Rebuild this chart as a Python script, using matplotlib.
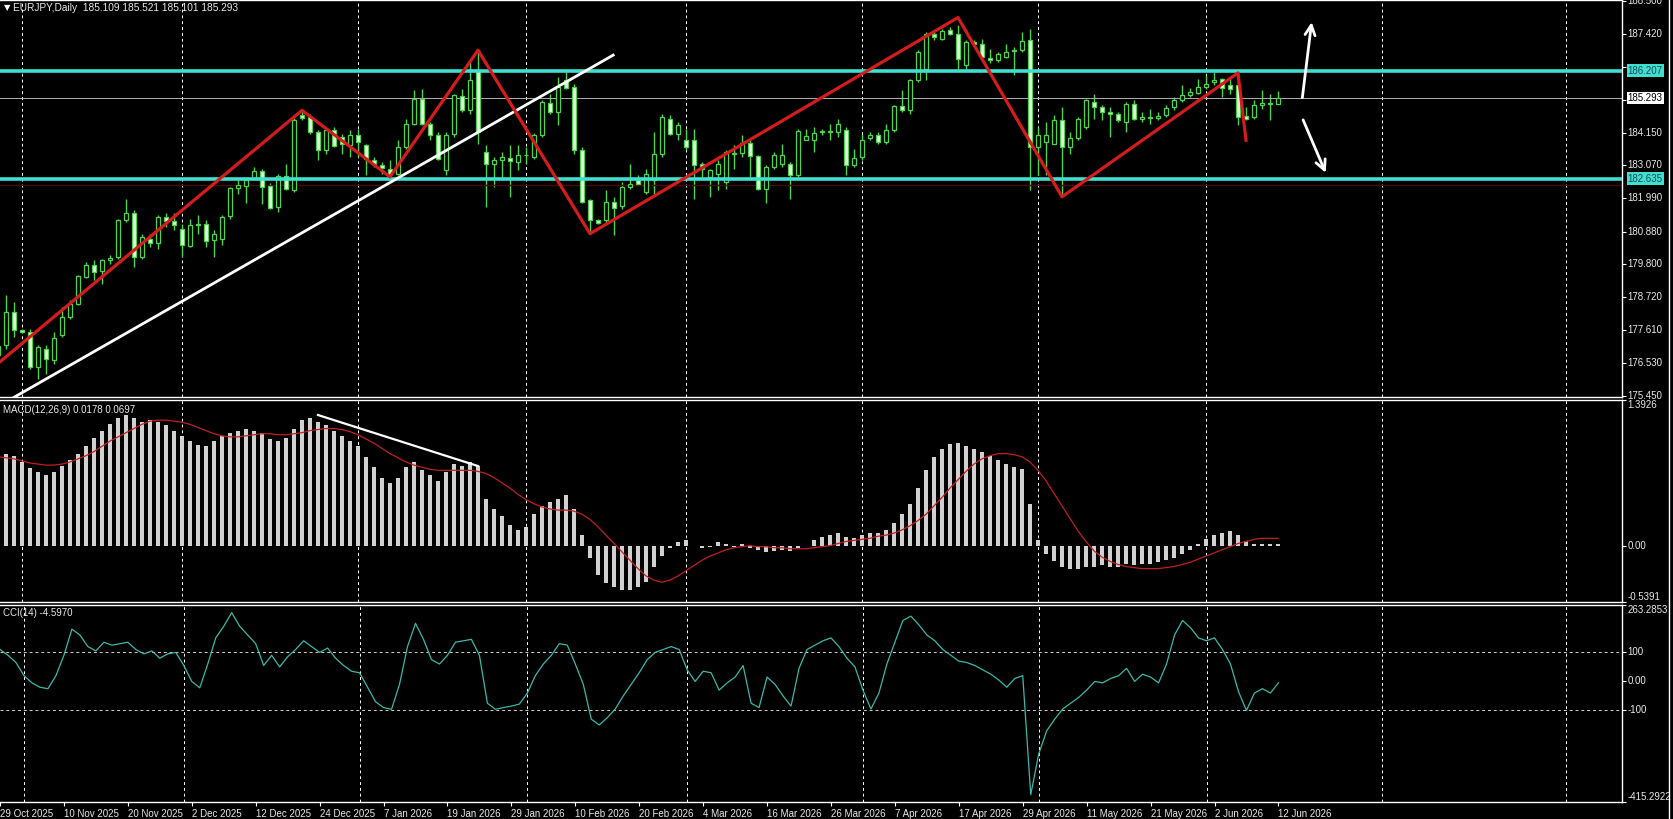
import matplotlib
matplotlib.use("Agg")
import matplotlib.pyplot as plt
import numpy as np

# daily candles, 29 Oct 2025 .. 12 Jun 2026
opens = [176.80, 177.12, 178.22, 177.62, 177.56, 176.40, 177.01, 176.65, 177.45, 178.06,
         178.50, 179.38, 179.77, 179.58, 179.93, 180.04, 181.26, 181.48, 180.04, 180.65,
         180.49, 181.37, 181.22, 180.95, 180.41, 181.14, 181.14, 180.59, 180.63, 181.39,
         182.33, 182.38, 182.66, 182.89, 182.38, 181.70, 182.71, 182.25, 184.73, 184.67,
         184.18, 183.59, 184.23, 184.01, 183.74, 184.09, 183.73, 183.24, 183.07, 182.96,
         182.80, 183.68, 184.45, 185.28, 184.45, 184.09, 182.91, 184.12, 185.37, 184.89,
         186.21, 183.51, 183.11, 183.24, 183.33, 183.18, 183.42, 183.35, 184.07, 185.15,
         184.84, 185.88, 185.66, 183.57, 181.92, 181.25, 181.25, 181.86, 181.72, 182.36,
         182.58, 182.19, 182.58, 183.44, 184.62, 184.12, 183.90, 183.90, 183.13, 182.69,
         182.80, 182.52, 183.46, 183.48, 183.81, 183.37, 182.30, 183.02, 183.13, 183.13,
         182.74, 183.92, 183.92, 184.16, 184.18, 184.18, 184.25, 183.07, 183.35, 183.96,
         184.07, 183.85, 184.23, 185.02, 184.89, 185.88, 186.27, 187.43, 187.26, 187.56,
         187.43, 186.38, 187.15, 187.10, 186.63, 186.55, 186.66, 186.85, 186.88, 187.21,
         183.68, 183.85, 183.79, 184.56, 183.68, 183.96, 184.34, 185.17, 185.00, 184.82,
         184.76, 184.51, 185.09, 184.60, 184.67, 184.65, 184.73, 185.00, 185.22, 185.39,
         185.48, 185.66, 185.83, 185.94, 185.72, 185.72, 184.69, 184.67, 185.06, 185.11,
         185.109]
highs = [177.30, 178.77, 178.55, 177.67, 177.67, 177.12, 177.12, 177.56, 178.39, 178.61,
         179.44, 179.88, 179.93, 179.99, 180.10, 181.31, 181.97, 181.59, 180.81, 180.81,
         181.42, 181.48, 181.48, 181.12, 181.31, 181.42, 181.25, 180.92, 181.42, 182.36,
         182.58, 182.69, 183.02, 182.96, 182.49, 182.80, 183.13, 184.65, 184.89, 184.76,
         184.23, 184.29, 184.34, 184.12, 184.23, 184.29, 183.79, 183.35, 183.18, 183.24,
         183.90, 184.62, 185.55, 185.61, 184.51, 184.18, 184.18, 185.44, 185.61, 186.49,
         186.83, 183.73, 183.35, 183.51, 183.73, 183.73, 183.68, 184.14, 185.22, 185.44,
         185.99, 186.16, 185.77, 183.68, 181.97, 181.31, 182.25, 182.03, 182.52, 183.13,
         182.74, 182.96, 184.18, 184.78, 184.73, 184.51, 184.29, 184.29, 183.18, 182.96,
         183.24, 183.57, 183.73, 184.07, 183.90, 183.43, 183.07, 183.51, 183.79, 183.18,
         184.29, 184.29, 184.34, 184.29, 184.45, 184.62, 184.34, 183.62, 184.12, 184.18,
         184.18, 184.45, 185.06, 185.55, 185.94, 186.88, 187.48, 187.54, 187.59, 187.65,
         187.70, 187.23, 187.21, 187.26, 186.93, 186.82, 187.10, 186.99, 187.48, 187.59,
         184.34, 184.51, 184.73, 185.00, 184.18, 184.67, 185.28, 185.44, 185.06, 185.00,
         184.84, 185.17, 185.22, 184.84, 184.95, 184.82, 185.06, 185.33, 185.72, 185.64,
         185.94, 186.05, 186.16, 185.97, 185.99, 186.10, 185.00, 185.22, 185.55, 185.44,
         185.521]
lows = [176.40, 177.01, 177.40, 177.53, 176.35, 176.00, 176.18, 176.51, 177.40, 178.00,
        178.44, 179.33, 179.27, 179.16, 179.82, 179.99, 181.20, 179.71, 179.99, 180.37,
        180.32, 181.03, 180.92, 180.04, 180.37, 180.81, 180.37, 180.04, 180.43, 181.31,
        182.14, 181.81, 182.58, 181.78, 181.64, 181.53, 182.25, 182.19, 184.56, 184.12,
        183.26, 183.46, 183.68, 183.46, 183.35, 183.35, 182.74, 183.02, 182.80, 182.74,
        182.74, 183.62, 184.40, 184.40, 183.90, 183.24, 182.74, 184.01, 184.84, 184.78,
        183.79, 181.70, 182.36, 182.63, 182.03, 182.91, 183.13, 183.29, 184.01, 184.78,
        184.40, 185.61, 183.46, 181.81, 180.81, 181.14, 181.20, 180.76, 181.64, 182.30,
        182.41, 182.14, 182.14, 183.35, 184.07, 183.90, 183.57, 181.97, 182.69, 182.03,
        182.25, 182.30, 182.96, 183.35, 182.69, 182.25, 181.81, 182.96, 183.02, 181.97,
        182.69, 183.90, 183.51, 184.07, 183.90, 184.01, 182.74, 183.02, 183.24, 183.90,
        183.79, 183.79, 184.18, 184.84, 184.78, 185.83, 185.88, 187.21, 187.21, 187.37,
        186.27, 186.27, 187.04, 186.60, 186.44, 186.49, 186.63, 186.05, 186.82, 182.25,
        182.74, 182.74, 183.79, 182.03, 183.46, 183.90, 184.29, 184.62, 184.56, 184.01,
        184.51, 184.18, 184.56, 184.51, 184.45, 184.56, 184.67, 184.89, 185.17, 185.33,
        185.42, 185.61, 185.72, 185.33, 185.44, 184.40, 184.56, 184.62, 184.95, 184.58,
        185.101]
closes = [177.10, 178.22, 177.62, 177.57, 176.40, 177.07, 176.68, 177.37, 178.06, 178.50,
          179.40, 179.77, 179.55, 179.93, 180.02, 181.28, 181.48, 180.04, 180.70, 180.51,
          181.37, 181.23, 181.09, 180.43, 181.11, 181.09, 180.56, 180.81, 181.37, 182.32,
          182.41, 182.58, 182.89, 182.36, 181.67, 182.71, 182.30, 184.56, 184.65, 184.18,
          183.59, 184.23, 183.71, 183.79, 184.09, 183.85, 183.29, 183.11, 183.00, 182.80,
          183.68, 184.45, 185.28, 184.45, 184.07, 183.29, 184.09, 185.39, 184.89, 185.88,
          184.18, 183.11, 183.24, 183.35, 183.22, 183.40, 183.40, 184.07, 185.17, 184.84,
          185.66, 185.64, 183.57, 181.86, 181.25, 181.17, 181.86, 181.67, 182.36, 182.47,
          182.47, 182.80, 183.44, 184.67, 184.12, 184.40, 183.68, 183.07, 182.96, 182.91,
          183.13, 183.51, 183.49, 183.81, 183.37, 182.30, 183.02, 183.43, 183.40, 182.74,
          184.21, 184.03, 184.14, 184.20, 184.21, 184.45, 183.07, 183.32, 183.90, 184.07,
          183.85, 184.25, 185.02, 184.89, 185.88, 186.82, 187.43, 187.30, 187.52, 187.43,
          186.60, 187.15, 187.10, 186.66, 186.55, 186.77, 186.82, 186.88, 187.18, 183.68,
          184.07, 184.07, 184.56, 183.68, 183.96, 184.62, 185.22, 185.00, 184.84, 184.76,
          184.56, 185.09, 184.60, 184.67, 184.65, 184.69, 184.98, 185.22, 185.39, 185.50,
          185.66, 185.77, 185.88, 185.64, 185.61, 184.67, 184.62, 185.06, 185.13, 185.14,
          185.293]

# MACD(12,26,9): histogram (main) and signal
macd_main = [0.90, 0.88, 0.86, 0.80, 0.74, 0.70, 0.68, 0.70, 0.76, 0.82,
             0.88, 0.95, 1.03, 1.10, 1.16, 1.22, 1.25, 1.22, 1.18, 1.20,
             1.18, 1.15, 1.10, 1.05, 1.00, 0.96, 0.95, 1.00, 1.05, 1.08,
             1.10, 1.12, 1.10, 1.08, 1.02, 1.00, 1.03, 1.12, 1.20, 1.22,
             1.18, 1.15, 1.10, 1.05, 1.00, 0.95, 0.85, 0.75, 0.65, 0.60,
             0.65, 0.75, 0.80, 0.72, 0.68, 0.62, 0.70, 0.78, 0.76, 0.80,
             0.76, 0.45, 0.35, 0.28, 0.20, 0.15, 0.18, 0.30, 0.38, 0.42,
             0.45, 0.48, 0.35, 0.10, -0.12, -0.28, -0.36, -0.40, -0.42, -0.42,
             -0.40, -0.35, -0.20, -0.10, -0.02, 0.03, 0.05, 0.00, -0.02, -0.01,
             0.03, 0.02, -0.01, 0.02, -0.02, -0.04, -0.06, -0.05, -0.04, -0.05,
             -0.02, 0.00, 0.05, 0.08, 0.10, 0.12, 0.08, 0.07, 0.10, 0.12,
             0.12, 0.15, 0.22, 0.30, 0.40, 0.55, 0.72, 0.85, 0.92, 0.97,
             0.98, 0.95, 0.92, 0.90, 0.86, 0.82, 0.78, 0.75, 0.73, 0.40,
             0.05, -0.08, -0.15, -0.20, -0.22, -0.22, -0.20, -0.20, -0.19, -0.20,
             -0.20, -0.18, -0.19, -0.18, -0.18, -0.16, -0.14, -0.12, -0.08, -0.04,
             0.02, 0.06, 0.10, 0.12, 0.14, 0.10, 0.04, 0.02, 0.02, 0.015,
             0.0178]
macd_signal = [0.85, 0.84, 0.83, 0.81, 0.79, 0.78, 0.77, 0.77, 0.78, 0.80,
               0.83, 0.86, 0.90, 0.95, 1.00, 1.04, 1.08, 1.12, 1.16, 1.19,
               1.20, 1.20, 1.19, 1.18, 1.16, 1.13, 1.10, 1.07, 1.05, 1.04,
               1.04, 1.05, 1.06, 1.07, 1.07, 1.06, 1.06, 1.07, 1.08, 1.10,
               1.11, 1.12, 1.12, 1.11, 1.09, 1.06, 1.02, 0.98, 0.93, 0.88,
               0.84, 0.80, 0.77, 0.75, 0.73, 0.72, 0.72, 0.72, 0.72, 0.72,
               0.71, 0.69, 0.65, 0.60, 0.55, 0.49, 0.44, 0.40, 0.37, 0.35,
               0.34, 0.34, 0.33, 0.30, 0.25, 0.18, 0.10, 0.02, -0.06, -0.14,
               -0.22, -0.29, -0.33, -0.35, -0.33, -0.29, -0.24, -0.19, -0.14, -0.10,
               -0.07, -0.04, -0.02, -0.01, 0.00, -0.01, -0.01, -0.02, -0.02, -0.03,
               -0.03, -0.03, -0.02, -0.01, 0.00, 0.02, 0.04, 0.05, 0.06, 0.07,
               0.09, 0.10, 0.12, 0.15, 0.19, 0.24, 0.30, 0.38, 0.46, 0.55,
               0.63, 0.71, 0.78, 0.83, 0.86, 0.88, 0.88, 0.87, 0.85, 0.80,
               0.72, 0.62, 0.50, 0.38, 0.26, 0.14, 0.04, -0.05, -0.11, -0.15,
               -0.18, -0.20, -0.21, -0.22, -0.22, -0.22, -0.21, -0.20, -0.18, -0.16,
               -0.13, -0.10, -0.07, -0.04, -0.01, 0.02, 0.04, 0.06, 0.07, 0.07,
               0.0697]

# CCI(14)
cci = [110, 90, 65, 20, -5, -20, -25, 20, 90, 180,
       160, 120, 105, 135, 125, 130, 135, 110, 95, 105,
       80, 95, 100, 55, 0, -22, 60, 150, 190, 237,
       190, 160, 130, 55, 90, 50, 85, 110, 140, 120,
       100, 115, 80, 55, 35, 30, -20, -70, -90, -96,
       -10, 120, 200, 145, 75, 60, 90, 135, 140, 145,
       90, -75, -96, -90, -85, -78, -40, 20, 60, 90,
       130, 125, 60, -10, -130, -150, -125, -95, -50, -10,
       30, 75, 100, 110, 120, 110, 40, 0, 35, 30,
       -30, -5, 15, 55, -75, -90, 15, -10, -50, -85,
       45, 110, 125, 140, 150, 120, 80, 50, -30, -95,
       -40, 60, 135, 210, 225, 195, 160, 140, 110, 90,
       70, 65, 55, 40, 25, 5, -20, 10, 20, -390,
       -250, -170, -130, -95, -75, -55, -30, 0, -5, 10,
       20, 45, 0, 25, 15, -5, 60, 160, 210, 185,
       150, 140, 150, 110, 60, -35, -100, -40, -25, -40,
       -4.597]

tick_labels = ["29 Oct 2025", "10 Nov 2025", "20 Nov 2025", "2 Dec 2025", "12 Dec 2025",
               "24 Dec 2025", "7 Jan 2026", "19 Jan 2026", "29 Jan 2026", "10 Feb 2026",
               "20 Feb 2026", "4 Mar 2026", "16 Mar 2026", "26 Mar 2026", "7 Apr 2026",
               "17 Apr 2026", "29 Apr 2026", "11 May 2026", "21 May 2026", "2 Jun 2026",
               "12 Jun 2026"]
month_starts = [3, 23, 45, 66, 86, 108, 130, 151, 173, 196]

level_hi = 186.207
level_lo = 182.635
last_price = 185.293
price_ticks = [188.500, 187.420, 186.330, 185.240, 184.150, 183.070, 181.990,
               180.880, 179.800, 178.720, 177.610, 176.530, 175.450]

zigzag_idx = [0, 38, 49, 60, 74, 120, 133, 155, 156]
zigzag_px = [176.52, 184.89, 182.69, 186.88, 180.81, 187.96, 182.03, 186.13, 183.90]
trend_idx = [1.8, 77.05]
trend_px = [175.37, 186.74]
macd_div_idx = [40, 60]
macd_div_val = [1.249, 0.761]

GREEN = "#4cd44c"
CYAN = "#40e0d0"
TXT = "#e8e8e8"
FONT = ["Liberation Sans", "DejaVu Sans"]
plt.rcParams["font.family"] = FONT

W, H = 1673, 819
fig = plt.figure(figsize=(W / 100, H / 100), dpi=100, facecolor="black")


def panel(top, bottom):
    ax = fig.add_axes([0, 1 - bottom / H, 1622 / W, (bottom - top) / H])
    ax.set_facecolor("black")
    ax.spines["left"].set_visible(False)
    for s in ["top", "bottom", "right"]:
        ax.spines[s].set_color("white")
        ax.spines[s].set_linewidth(1)
    ax.set_xlim(0.25, 203)
    ax.yaxis.tick_right()
    ax.tick_params(axis="y", colors="white", length=3, width=0.8, labelright=False)
    ax.tick_params(axis="x", length=0, labelbottom=False)
    for m in month_starts:
        ax.axvline(m, color="white", lw=0.7, ls=(0, (3, 3)), zorder=1)
    return ax


def right_label(ax, y, text, va="center", fc=None, color=TXT):
    box = None
    if fc is not None:
        box = dict(boxstyle="square,pad=0.12", fc=fc, ec="none")
    ax.text(1.0035, y, text, transform=ax.get_yaxis_transform(), ha="left", va=va,
            fontsize=7, color=color, bbox=box, clip_on=False)


idx = np.arange(len(closes))
o = np.array(opens)
c = np.array(closes)

# ---- price panel
ax1 = panel(0, 397)
ax1.set_ylim(175.41, 188.54)
ax1.set_yticks(price_ticks)
ax1.vlines(idx, lows, highs, color=GREEN, lw=1, zorder=2)
up = c >= o
body_lo = np.minimum(o, c)
body_h = np.maximum(np.abs(c - o), 0.03)
ax1.bar(idx[up], body_h[up], bottom=body_lo[up], width=0.6, color="black",
        edgecolor=GREEN, lw=0.9, zorder=3)
ax1.bar(idx[~up], body_h[~up], bottom=body_lo[~up], width=0.6, color="#e6fae0",
        edgecolor=GREEN, lw=0.9, zorder=3)

ax1.axhline(182.43, color="#4a0a0a", lw=1, zorder=2)
ax1.axhline(last_price, color="#b0b0b0", lw=0.7, zorder=2)
ax1.axhline(level_hi, color=CYAN, lw=2.6, zorder=4)
ax1.axhline(level_lo, color=CYAN, lw=2.6, zorder=4)
ax1.plot(trend_idx, trend_px, color="white", lw=2, zorder=5, solid_capstyle="butt")
ax1.plot(zigzag_idx, zigzag_px, color="#d41c1c", lw=2.3, zorder=5)
ax1.annotate("", xy=(164.25, 187.90), xytext=(163, 185.22),
             arrowprops=dict(arrowstyle="->", color="white", lw=2, mutation_scale=18), zorder=6)
ax1.annotate("", xy=(166.1, 182.74), xytext=(163, 184.66),
             arrowprops=dict(arrowstyle="->", color="white", lw=2, mutation_scale=18), zorder=6)

for t in price_ticks:
    if abs(t - level_hi) > 0.3 and abs(t - last_price) > 0.3:
        right_label(ax1, t, f"{t:.3f}")
right_label(ax1, level_hi, f"{level_hi:.3f}", fc=CYAN, color="#1a4a5a")
right_label(ax1, level_lo, f"{level_lo:.3f}", fc=CYAN, color="#1a4a5a")
right_label(ax1, last_price, f"{last_price:.3f}", fc="white", color="black")

ax1.text(0.0025, 0.981, "\u25bc", transform=ax1.transAxes, fontsize=6, color="white",
         va="center", ha="left", family=["DejaVu Sans"])
ax1.text(0.008, 0.981, "EURJPY,Daily  185.109 185.521 185.101 185.293",
         transform=ax1.transAxes, fontsize=7.3, color=TXT, va="center", ha="left")

# ---- MACD panel
ax2 = panel(400, 602)
macd_top, macd_bot = 1.3926, -0.5391
ax2.set_ylim(macd_bot, macd_top)
ax2.set_yticks([macd_top, 0, macd_bot])
ax2.bar(idx, macd_main, width=0.4, color="#d0d0d0", zorder=2)
ax2.plot(idx, macd_signal, color="#c02020", lw=0.9, zorder=3)
ax2.plot(macd_div_idx, macd_div_val, color="white", lw=1.6, zorder=4)
right_label(ax2, macd_top, "1.3926", va="top")
right_label(ax2, 0, "0.00")
right_label(ax2, macd_bot, "-0.5391", va="bottom")
ax2.text(0.002, 0.95, "MACD(12,26,9) 0.0178 0.0697", transform=ax2.transAxes,
         fontsize=7, color=TXT, va="center", ha="left")

# ---- CCI panel
ax3 = panel(605, 802)
cci_top, cci_bot = 263.2853, -415.2922
ax3.set_ylim(cci_bot, cci_top)
ax3.set_yticks([cci_top, 100, 0, -100, cci_bot])
for lvl in (100, -100):
    ax3.axhline(lvl, color="#d0d0d0", lw=0.7, ls=(0, (3, 3)), zorder=1)
ax3.plot(idx, cci, color="#3bb8ac", lw=0.9, zorder=3)
right_label(ax3, cci_top, "263.2853", va="top")
right_label(ax3, 100, "100")
right_label(ax3, 0, "0.00")
right_label(ax3, -100, "-100")
right_label(ax3, cci_bot, "-415.2922", va="bottom")
ax3.text(0.002, 0.96, "CCI(14) -4.5970", transform=ax3.transAxes,
         fontsize=7, color=TXT, va="center", ha="left")

ax3.set_xticks(np.arange(0, len(closes), 8))
ax3.set_xticklabels(tick_labels, ha="left")
ax3.tick_params(axis="x", length=3, width=0.8, colors="white", labelbottom=True,
                labelsize=7, labelcolor=TXT, pad=2, direction="out")

# window border on the far right
fig.add_artist(plt.Line2D([1669 / W, 1669 / W], [0, 1], color="white", lw=1))

fig.savefig("out.png", dpi=100, facecolor="black")
